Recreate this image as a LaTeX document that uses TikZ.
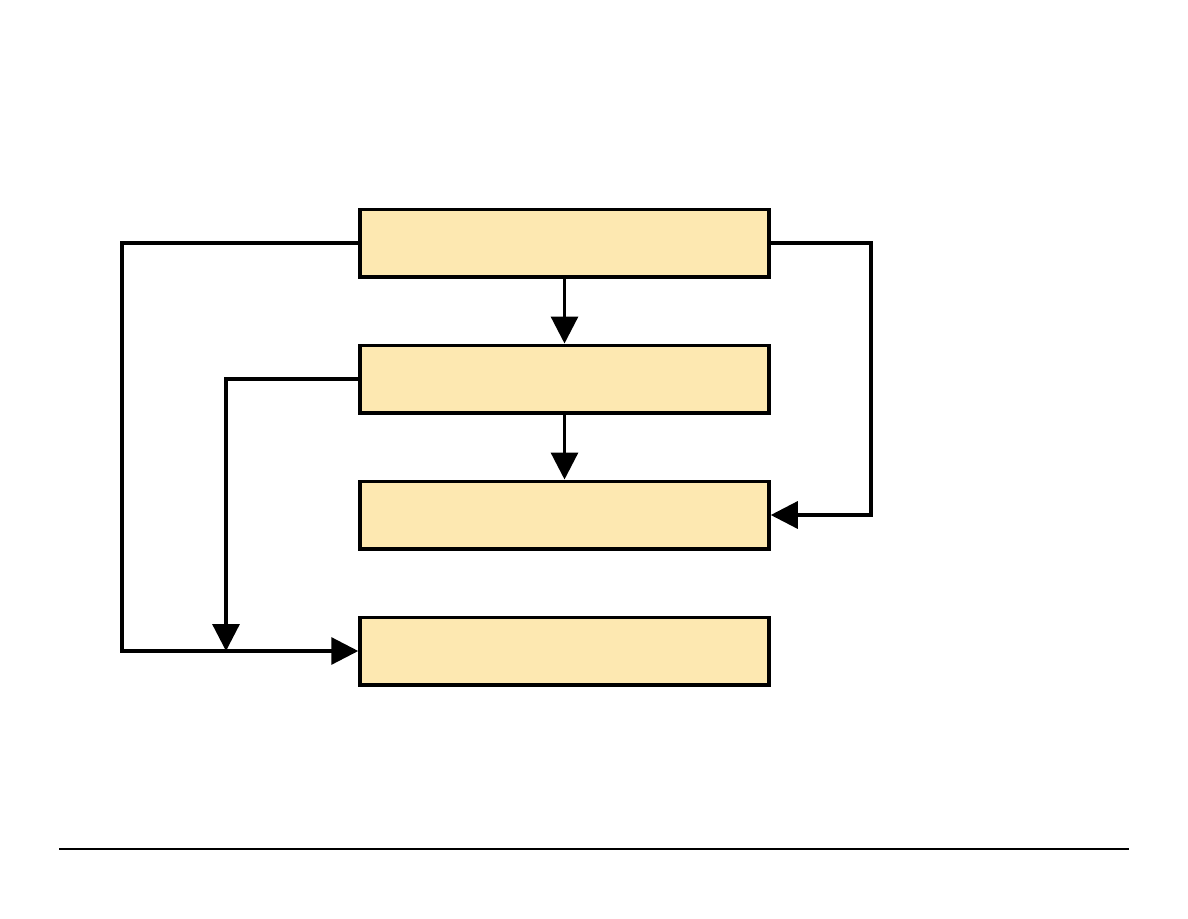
\documentclass[tikz,border=0pt]{standalone}
\usetikzlibrary{positioning,arrows.meta}
\definecolor{boxfill}{HTML}{FDE8B1}
\begin{document}
\begin{tikzpicture}[
    node distance=1.30cm,
    block/.style={draw, fill=boxfill, line width=0.07cm,
        minimum width=8.18cm, minimum height=1.35cm},
    flow/.style={line width=0.065cm, -{Triangle[length=0.54cm,width=0.54cm]}}
    ]
    \useasboundingbox (0,0) rectangle (23.76,-18.36);
    % boxes
    \node[block] (a) at (11.29,-4.86) {};
    \node[block, below=of a] (b) {};
    \node[block, below=of b] (c) {};
    \node[block, below=of c] (d) {};
    % rails for the side connectors
    \coordinate (leftrail) at (2.44,0);
    \coordinate (midrail) at (4.52,0);
    \coordinate (rightrail) at (17.42,0);
    \draw[flow] (a) -- (b);
    \draw[flow] (b) -- (c);
    \draw[flow] (a.west) -- (a.west -| leftrail) |- (d.west);
    \draw[flow] (b.west) -| (midrail |- d.west);
    \draw[flow] (a.east) -- (a.east -| rightrail) |- (c.east);
    % footer rule
    \coordinate (footl) at (1.18,-16.98);
    \coordinate (footr) at (22.58,-16.98);
    \draw[line width=0.6pt] (footl) -- (footr);
\end{tikzpicture}
\end{document}
